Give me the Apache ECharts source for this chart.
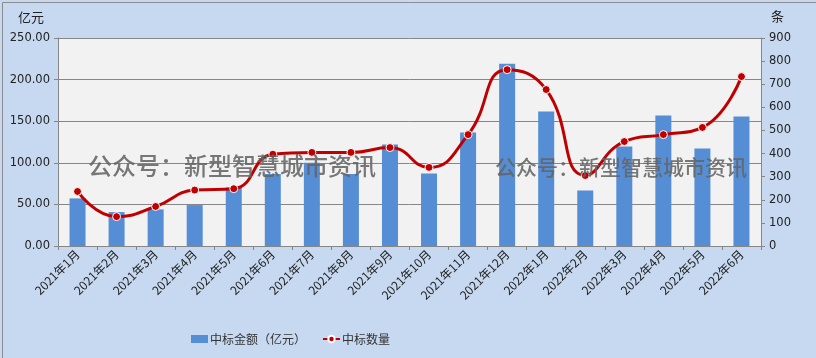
<!DOCTYPE html>
<html><head><meta charset="utf-8">
<script src="https://cdn.jsdelivr.net/npm/echarts@6/dist/echarts.min.js"></script>
<style>html,body{margin:0;padding:0;background:#C6D9F1;}#c{width:816px;height:358px;}</style>
</head><body><div id="c"></div>
<script>
var categories = ['2021年1月','2021年2月','2021年3月','2021年4月','2021年5月','2021年6月','2021年7月','2021年8月','2021年9月','2021年10月','2021年11月','2021年12月','2022年1月','2022年2月','2022年3月','2022年4月','2022年5月','2022年6月'];
var amounts = [57.2, 40.8, 44.0, 49.2, 70.4, 86.4, 100.0, 86.4, 122.0, 87.2, 136.4, 219.2, 161.6, 66.8, 119.6, 156.8, 117.2, 155.6];
var counts = [236, 127, 171, 242, 248, 397, 405, 405, 426, 340, 482, 763, 677, 305, 452, 482, 513, 733];
var leftTicks = { min: 0, max: 250, interval: 50 };
var rightTicks = { min: 0, max: 900, interval: 100 };
var watermark = '公众号：新型智慧城市资讯';

var chart = echarts.init(document.getElementById('c'), null, { renderer: 'canvas' });
var numFont = 'DejaVu Sans';
var cjk = '"Noto Sans CJK SC", sans-serif';
chart.setOption({
  backgroundColor: '#C6D9F1',
  animation: false,
  grid: { left: 58, right: 55, top: 38, bottom: 112, show: true, backgroundColor: '#F2F2F2', borderWidth: 0 },
  legend: {
    bottom: 8, left: 186, itemGap: 16, itemWidth: 17, itemHeight: 8,
    textStyle: { fontFamily: cjk, fontSize: 12, color: '#333', padding: [0, 0, 0, -3] },
    data: [{ name: '中标金额（亿元）', icon: 'rect' }, { name: '中标数量' }]
  },
  xAxis: {
    type: 'category', data: categories,
    axisLine: { lineStyle: { color: '#868686', width: 1 } },
    axisTick: { show: true, length: 4, lineStyle: { color: '#868686' } },
    axisLabel: { rotate: 45, fontFamily: cjk, fontSize: 12, color: '#222', margin: 6 }
  },
  yAxis: [
    {
      type: 'value', min: leftTicks.min, max: leftTicks.max, interval: leftTicks.interval,
      axisLine: { show: true, lineStyle: { color: '#868686' } },
      axisTick: { show: true, length: 4, lineStyle: { color: '#868686' } },
      splitLine: { lineStyle: { color: '#868686', width: 1 } },
      axisLabel: { fontFamily: numFont, fontSize: 11.5, color: '#222', margin: 8,
        formatter: function (v) { return v.toFixed(2); } }
    },
    {
      type: 'value', min: rightTicks.min, max: rightTicks.max, interval: rightTicks.interval,
      axisLine: { show: true, lineStyle: { color: '#868686' } },
      axisTick: { show: true, length: 4, lineStyle: { color: '#868686' } },
      splitLine: { show: false },
      axisLabel: { fontFamily: numFont, fontSize: 11.5, color: '#222', margin: 8 }
    }
  ],
  series: [
    {
      name: '中标金额（亿元）', type: 'bar', data: amounts, yAxisIndex: 0,
      barWidth: 16, itemStyle: { color: '#558ED5' }, z: 2
    },
    {
      name: '中标数量', type: 'line', data: counts, yAxisIndex: 1, smooth: 0.5,
      symbol: 'circle', symbolSize: 8,
      lineStyle: { color: '#C00000', width: 3 },
      itemStyle: { color: '#C00000', borderColor: '#ffffff', borderWidth: 1 }, z: 3
    }
  ],
  graphic: [
    { type: 'rect', left: 0, top: 0, z: 100, silent: true,
      shape: { width: 815, height: 357 }, style: { fill: 'none', stroke: '#8c8c8c', lineWidth: 1 } },
    { type: 'text', left: 18, top: 11, z: 10,
      style: { text: '亿元', font: '13px ' + cjk, fill: '#222' } },
    { type: 'text', left: 771, top: 10, z: 10,
      style: { text: '条', font: '13px ' + cjk, fill: '#222' } },
    { type: 'text', left: 88, top: 154, z: 20,
      style: { text: watermark, font: '500 24px ' + cjk, fill: 'rgba(100,100,100,0.88)' } },
    { type: 'text', left: 495, top: 157, z: 20,
      style: { text: watermark, font: '500 21px ' + cjk, fill: 'rgba(100,100,100,0.88)' } }
  ]
});
</script></body></html>
